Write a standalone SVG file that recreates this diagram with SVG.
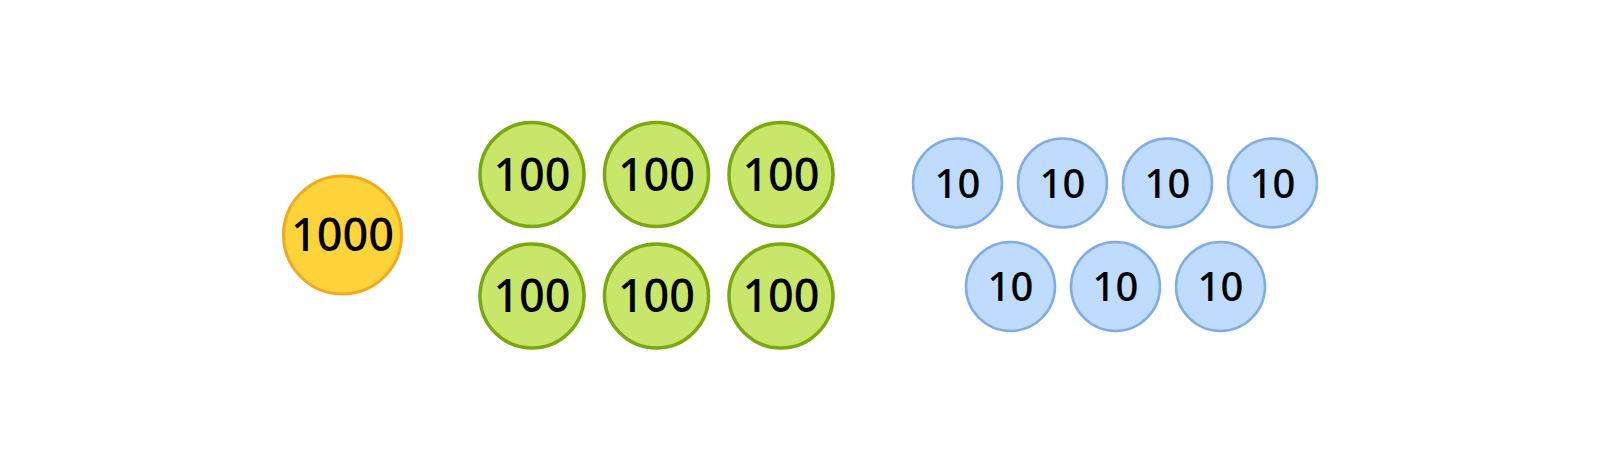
<svg xmlns="http://www.w3.org/2000/svg" width="1600" height="470" viewBox="0 0 1600 470">
<style>
text{font-family:"Noto Sans","Open Sans","DejaVu Sans",sans-serif;font-weight:500;fill:#000;text-anchor:middle}
.y{fill:#FFD43B;stroke:#F5A81C;stroke-width:3}
.g{fill:#C8E66A;stroke:#7BA80C;stroke-width:3.5}
.b{fill:#BFDBFE;stroke:#7FACE8;stroke-width:2.5}
.t44{font-size:45px}
.t40{font-size:40px}
</style>
<rect width="1600" height="470" fill="#fff"/>
<g id="n1000"><circle class="y" cx="342.5" cy="235" r="59"/><text class="t44" x="342.5" y="251">1000</text></g>
<g id="h1"><circle class="g" cx="532" cy="174.5" r="52"/><text class="t44" x="532" y="190.5">100</text></g>
<g id="h2"><circle class="g" cx="656.5" cy="174.5" r="52"/><text class="t44" x="656.5" y="190.5">100</text></g>
<g id="h3"><circle class="g" cx="781" cy="174.5" r="52"/><text class="t44" x="781" y="190.5">100</text></g>
<g id="h4"><circle class="g" cx="532" cy="296" r="52"/><text class="t44" x="532" y="312">100</text></g>
<g id="h5"><circle class="g" cx="656.5" cy="296" r="52"/><text class="t44" x="656.5" y="312">100</text></g>
<g id="h6"><circle class="g" cx="781" cy="296" r="52"/><text class="t44" x="781" y="312">100</text></g>
<g id="t1"><circle class="b" cx="957.5" cy="183" r="44.5"/><text class="t40" x="957.5" y="197.5">10</text></g>
<g id="t2"><circle class="b" cx="1062.5" cy="183" r="44.5"/><text class="t40" x="1062.5" y="197.5">10</text></g>
<g id="t3"><circle class="b" cx="1167.5" cy="183" r="44.5"/><text class="t40" x="1167.5" y="197.5">10</text></g>
<g id="t4"><circle class="b" cx="1272.5" cy="183" r="44.5"/><text class="t40" x="1272.5" y="197.5">10</text></g>
<g id="t5"><circle class="b" cx="1010.5" cy="286.5" r="44.5"/><text class="t40" x="1010.5" y="301">10</text></g>
<g id="t6"><circle class="b" cx="1115.5" cy="286.5" r="44.5"/><text class="t40" x="1115.5" y="301">10</text></g>
<g id="t7"><circle class="b" cx="1220.5" cy="286.5" r="44.5"/><text class="t40" x="1220.5" y="301">10</text></g>
<g id="connectors"/>
</svg>
